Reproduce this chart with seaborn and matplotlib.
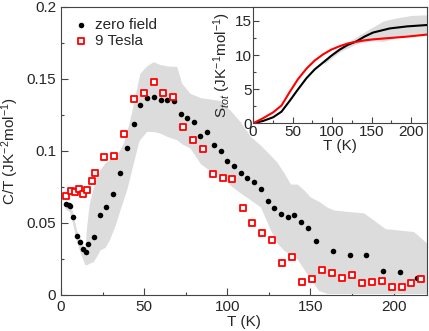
import numpy as np
import pandas as pd
import matplotlib
import matplotlib.pyplot as plt
from matplotlib.ticker import MultipleLocator, FormatStrFormatter
import seaborn as sns
matplotlib.use('Agg')

# C/T data, zero field (black dots)
t_zero = [3.0, 4.6, 5.6, 7.2, 9.4, 11.4, 13.4, 15.0, 16.4, 19.7, 23.5, 27.3, 31.3, 35.3,
          39.5, 43.7, 47.5, 51.5, 55.8, 60.0, 64.0, 67.8, 71.9, 75.9, 79.9, 83.9, 87.9,
          92.0, 96.0, 100.1, 104.1, 108.1, 112.1, 116.1, 120.2, 124.3, 128.4, 132.4,
          136.4, 140.4, 144.4, 148.4, 153.4, 163.5, 173.7, 183.7, 193.7, 204.0, 214.2]
ct_zero = [0.063, 0.0626, 0.062, 0.054, 0.041, 0.0368, 0.032, 0.0297, 0.0354, 0.040,
           0.0556, 0.0612, 0.070, 0.0846, 0.1017, 0.1189, 0.1319, 0.1365, 0.1376, 0.1352,
           0.1356, 0.1350, 0.1257, 0.1227, 0.1198, 0.1102, 0.1130, 0.1038, 0.1002, 0.0929,
           0.0892, 0.0846, 0.0809, 0.0781, 0.0737, 0.0653, 0.0605, 0.0565, 0.054, 0.0554,
           0.0505, 0.0466, 0.0373, 0.0306, 0.0276, 0.0278, 0.0165, 0.016, 0.012]

# C/T data, 9 Tesla (red open squares)
t_9t = [2.8, 5.8, 8.2, 10.8, 13.2, 15.8, 18.5, 20.3, 26.1, 32.1, 37.9, 43.9, 49.8, 55.8,
        61.6, 67.6, 73.4, 79.4, 85.4, 91.3, 97.3, 103.1, 109.3, 115.1, 120.9, 126.8,
        133.0, 139.0, 145.0, 151.0, 157.0, 163.0, 169.1, 174.9, 180.9, 186.9, 193.0,
        198.8, 204.8, 210.6, 216.6]
ct_9t = [0.0686, 0.0721, 0.0716, 0.0735, 0.070, 0.0728, 0.0788, 0.0846, 0.0957, 0.0968,
         0.1119, 0.1358, 0.1404, 0.1481, 0.1404, 0.1376, 0.1163, 0.1075, 0.1013, 0.0841,
         0.0811, 0.0806, 0.0602, 0.050, 0.0429, 0.0378, 0.0222, 0.0266, 0.009, 0.0113,
         0.0176, 0.0151, 0.012, 0.0139, 0.0081, 0.0093, 0.0097, 0.0054, 0.0056, 0.0081,
         0.0109]

# grey uncertainty band of the zero-field data
band_t = [2.4, 5, 7, 9.4, 11.4, 13.4, 14.4, 15.5, 17, 19.5, 21.5, 23.5, 26.5, 29, 32.5,
          35.5, 37.5, 39.5, 41.5, 42.5, 44.5, 46.5, 47.5, 51.5, 55.5, 59.6, 64, 69.6, 72.6,
          77.6, 84, 90, 96, 102, 108, 114, 120, 126, 130, 134, 138, 142, 146, 150, 155,
          160, 164, 172, 182, 188, 195, 204, 212, 220]
band_hi = [0.064, 0.064, 0.058, 0.045, 0.040, 0.034, 0.031, 0.048, 0.063, 0.075, 0.082,
           0.087, 0.0916, 0.094, 0.0962, 0.101, 0.1055, 0.113, 0.122, 0.127, 0.138, 0.149,
           0.154, 0.159, 0.162, 0.160, 0.159, 0.1587, 0.147, 0.140, 0.137, 0.136, 0.135,
           0.128, 0.120, 0.110, 0.104, 0.097, 0.092, 0.085, 0.077, 0.077, 0.073, 0.068,
           0.065, 0.061, 0.059, 0.058, 0.057, 0.052, 0.046, 0.045, 0.044, 0.036]
band_lo = [0.060, 0.058, 0.050, 0.037, 0.030, 0.024, 0.021, 0.021, 0.022, 0.0232, 0.027,
           0.0313, 0.033, 0.038, 0.048, 0.059, 0.066, 0.073, 0.082, 0.087, 0.096, 0.1055,
           0.108, 0.1135, 0.1135, 0.1124, 0.110, 0.1078, 0.105, 0.102, 0.091, 0.086, 0.083,
           0.076, 0.0707, 0.066, 0.061, 0.045, 0.036, 0.031, 0.028, 0.025, 0.018, 0.011,
           0.003, 0.001, 0.001, 0.001, 0.001, 0.001, 0.001, 0.001, 0.001, 0.001]

# inset: total entropy
s_t = [0, 12.7, 25.3, 35.9, 46.4, 57, 67.5, 78, 88.6, 99, 109.7, 120, 130.8, 141,
       151.9, 173, 195, 220]
s_zero = [0, 0.35, 0.88, 1.7, 3.3, 5.0, 6.6, 7.9, 8.9, 9.9, 10.8, 11.5, 12.0, 12.7,
          13.3, 13.9, 14.2, 14.4]
s_9t = [0, 0.75, 1.6, 2.6, 4.6, 6.5, 8.0, 9.2, 10.1, 10.8, 11.3, 11.7, 11.95, 12.15,
        12.3, 12.5, 12.7, 13.0]
s_band_t = [90, 110, 130, 150, 165, 180, 200, 220]
s_band_hi = [9.2, 11.2, 12.6, 14.0, 15.0, 15.4, 15.8, 15.9]
s_band_lo = [8.7, 10.5, 11.6, 12.1, 12.0, 12.5, 12.9, 13.1]

sns.set_style("ticks")
plt.rcParams['font.family'] = ['Liberation Sans', 'DejaVu Sans']
plt.rcParams['mathtext.fontset'] = 'custom'
plt.rcParams['mathtext.rm'] = 'Liberation Sans'
plt.rcParams['mathtext.it'] = 'Liberation Sans:italic'

grey = '#dcdcdc'

fig = plt.figure(figsize=(4.29, 3.31), dpi=100)
ax = fig.add_axes([0.142, 0.109, 0.853, 0.870])

ax.fill_between(band_t, band_lo, band_hi, color=grey, linewidth=0, zorder=1)
df_zero = pd.DataFrame({"T": t_zero, "CT": ct_zero})
df_9t = pd.DataFrame({"T": t_9t, "CT": ct_9t})
sns.scatterplot(data=df_zero, x="T", y="CT", ax=ax, color="black", marker="o", s=16,
                linewidth=0, label="zero field", zorder=3)
sns.scatterplot(data=df_9t, x="T", y="CT", ax=ax, color="white", edgecolor="red",
                marker="s", s=22, linewidth=1.3, label="9 Tesla", zorder=3)

ax.set_xlim(0, 220)
ax.set_ylim(0, 0.2)
ax.xaxis.set_major_locator(MultipleLocator(50))
ax.xaxis.set_minor_locator(MultipleLocator(25))
ax.yaxis.set_major_locator(MultipleLocator(0.05))
ax.yaxis.set_minor_locator(MultipleLocator(0.025))
ax.yaxis.set_major_formatter(FormatStrFormatter('%g'))
ax.tick_params(which='both', direction='in', labelsize=11, width=0.8, color='#444444')
ax.tick_params(which='major', length=5)
ax.tick_params(which='minor', length=2.5)
for sp in ax.spines.values():
    sp.set_linewidth(0.8)
    sp.set_color('#444444')
ax.set_xlabel("T (K)", fontsize=11, labelpad=1)
ax.set_ylabel("C/T (JK$^{-2}$mol$^{-1}$)", fontsize=11, labelpad=4)
ax.legend(loc="upper left", frameon=False, fontsize=11, handletextpad=0.3,
          borderaxespad=0.3, labelspacing=0.15, handlelength=1.2,
          bbox_to_anchor=(0.0, 1.0))

# inset
axin = fig.add_axes([0.590, 0.6275, 0.405, 0.3505])
axin.set_facecolor('white')
axin.fill_between(s_band_t, s_band_lo, s_band_hi, color=grey, linewidth=0, zorder=1)
df_s = pd.DataFrame({"T": s_t, "zero": s_zero, "9T": s_9t})
sns.lineplot(data=df_s, x="T", y="zero", ax=axin, color="black", linewidth=1.5, zorder=3)
sns.lineplot(data=df_s, x="T", y="9T", ax=axin, color="red", linewidth=1.5, zorder=3)
axin.set_xlim(0, 220)
axin.set_ylim(0, 17)
axin.xaxis.set_major_locator(MultipleLocator(50))
axin.xaxis.set_minor_locator(MultipleLocator(25))
axin.yaxis.set_major_locator(MultipleLocator(5))
axin.yaxis.set_minor_locator(MultipleLocator(2.5))
axin.tick_params(which='both', direction='in', labelsize=11, width=0.8, color='#444444', pad=1)
axin.tick_params(which='major', length=4.5)
axin.tick_params(which='minor', length=2.5)
for sp in axin.spines.values():
    sp.set_linewidth(0.8)
    sp.set_color('#444444')
axin.set_xlabel("T (K)", fontsize=11, labelpad=0)
axin.set_ylabel("S$_{tot}$ (JK$^{-1}$mol$^{-1}$)", fontsize=11, labelpad=1)

fig.savefig("out.png", dpi=100)
plt.close(fig)
